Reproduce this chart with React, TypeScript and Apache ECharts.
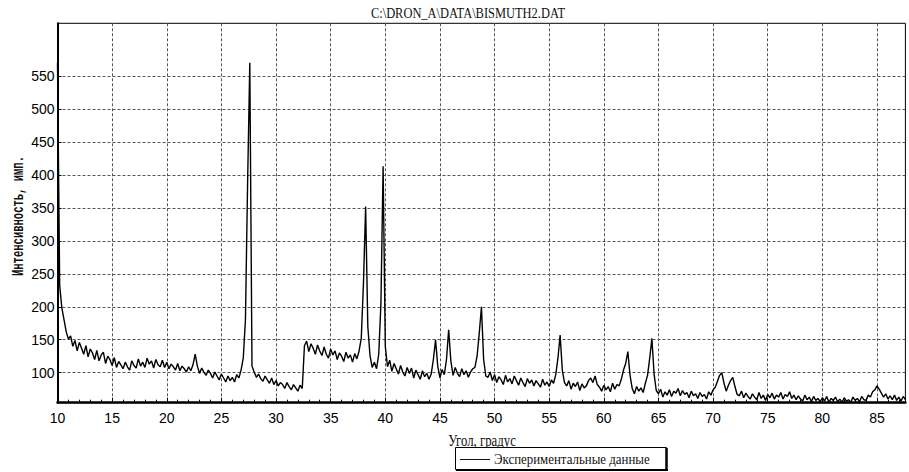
import React, { useEffect, useRef } from "react";
import * as echarts from "echarts";

const titleText = "C:\\DRON_A\\DATA\\BISMUTH2.DAT";
const xName = "Угол, градус";
const yName = "Интенсивность, имп.";
const legendName = "Экспериментальные данные";

const xTicks = [10, 15, 20, 25, 30, 35, 40, 45, 50, 55, 60, 65, 70, 75, 80, 85];
const yTicks = [100, 150, 200, 250, 300, 350, 400, 450, 500, 550];

const scanStep = 0.2;

// intensity readings, 10.0° – 19.8°
const scan10 = [
  570, 232, 198, 180, 162, 151, 156, 140, 149, 133,
  146, 137, 128, 141, 124, 136, 130, 120, 134, 118,
  127, 131, 114, 125, 120, 111, 123, 108, 117, 112,
  106, 116, 109, 104, 118, 111, 107, 121, 110, 116,
  108, 122, 113, 118, 107, 120, 112, 109, 119, 108,
];
// 20.0° – 29.8°
const scan20 = [
  116, 106, 113, 109, 104, 114, 103, 110, 106, 101,
  109, 103, 112, 128, 110, 99, 107, 101, 96, 104,
  99, 92, 101, 95, 89, 98, 92, 86, 95, 88,
  93, 86, 97, 92, 104, 122, 180, 390, 570, 110,
  101, 93, 98, 91, 87, 95, 89, 84, 92, 82,
];
// 30.0° – 39.8°
const scan30 = [
  88, 80, 85, 82, 76, 85, 79, 74, 82, 77,
  72, 81, 76, 141, 148, 132, 144, 137, 128, 142,
  133, 126, 139, 128, 122, 136, 127, 133, 120, 130,
  125, 117, 131, 122, 127, 116, 129, 121, 133, 152,
  235, 352, 170, 126, 108, 116, 106, 128, 205, 413,
];
// 40.0° – 49.8°
const scan40 = [
  140, 109, 119, 102, 114, 106, 98, 111, 101, 95,
  108, 99, 107, 92, 104, 97, 90, 103, 94, 99,
  90, 98, 120, 150, 110, 92, 105, 97, 120, 165,
  118, 96, 108, 99, 94, 106, 97, 103, 93, 101,
  106, 108, 125, 160, 200, 120, 95, 93, 101, 88,
];
// 50.0° – 59.8°
const scan50 = [
  97, 85, 94, 89, 82, 96, 86, 91, 83, 95,
  88, 81, 92, 85, 79, 91, 84, 89, 80, 88,
  83, 78, 90, 81, 86, 79, 89, 84, 97, 122,
  157, 104, 85, 80, 88, 75, 84, 79, 86, 73,
  83, 77, 80, 88, 92, 85, 95, 82, 78, 72,
];
// 60.0° – 69.8°
const scan60 = [
  81, 74, 79, 71, 84, 75, 82, 80, 90, 104,
  114, 132, 96, 76, 68, 79, 72, 77, 70, 84,
  96, 122, 152, 98, 73, 68, 75, 63, 71, 66,
  74, 64, 72, 69, 76, 65, 73, 67, 70, 62,
  72, 65, 68, 61, 70, 64, 67, 60, 71, 66,
];
// 70.0° – 79.8°
const scan70 = [
  74, 78, 87, 96, 100, 84, 72, 81, 88, 93,
  79, 67, 65, 72, 62, 69, 64, 60, 68, 63,
  59, 70, 61, 66, 58, 67, 62, 69, 60, 66,
  63, 70, 60, 67, 64, 71, 61, 66, 59, 65,
  60, 57, 66, 59, 63, 56, 64, 58, 61, 56,
];
// 80.0° – 87.6°
const scan80 = [
  62, 57, 64, 55, 61, 58, 63, 56, 60, 55,
  62, 57, 59, 55, 63, 58, 61, 56, 64, 59,
  58, 66, 63, 71, 74, 80, 75, 69, 63, 68,
  60, 65, 59, 66, 58, 63, 57, 64, 59,
];

const segments: [number, number[]][] = [
  [10, scan10],
  [20, scan20],
  [30, scan30],
  [40, scan40],
  [50, scan50],
  [60, scan60],
  [70, scan70],
  [80, scan80],
];

export default function App() {
  const ref = useRef<HTMLDivElement>(null);
  useEffect(() => {
    if (!ref.current) return;
    const chart = echarts.init(ref.current, null, { renderer: "svg" });
    const data: [number, number][] = [];
    segments.forEach(([start, vals]) => {
      vals.forEach((v, i) => data.push([+(start + i * scanStep).toFixed(1), v]));
    });
    const gridLine = { show: true, lineStyle: { color: "#555", type: [3, 2], width: 1 } };
    chart.setOption({
      animation: false,
      backgroundColor: "#fff",
      grid: {
        left: 57.5,
        right: 3.6,
        top: 23.3,
        bottom: 69.3,
        show: true,
        borderColor: "#000",
        borderWidth: 1,
        backgroundColor: "transparent",
      },
      xAxis: {
        type: "value",
        min: 10,
        max: 87.6,
        interval: 5,
        axisLine: { lineStyle: { color: "#000", width: 2.5 } },
        axisTick: { show: true, inside: true, length: 5, customValues: xTicks, lineStyle: { color: "#000" } },
        minorTick: { show: true, splitNumber: 5, length: 3, lineStyle: { color: "#000" } },
        axisLabel: {
          customValues: xTicks,
          margin: 8,
          fontSize: 14,
          color: "#000",
          fontFamily: "'Liberation Sans', Arial, sans-serif",
        },
        splitLine: gridLine,
      },
      yAxis: {
        type: "value",
        min: 54.5,
        max: 630,
        axisLine: { show: true, lineStyle: { color: "#000", width: 2 } },
        axisTick: { show: true, inside: true, length: 4, customValues: yTicks, lineStyle: { color: "#000" } },
        axisLabel: {
          customValues: yTicks,
          margin: 3,
          fontSize: 14,
          color: "#000",
          fontFamily: "'Liberation Sans', Arial, sans-serif",
        },
        splitLine: gridLine,
      },
      series: [
        {
          type: "line",
          name: legendName,
          data,
          showSymbol: false,
          lineStyle: { color: "#000", width: 1.4 },
        },
      ],
      graphic: [
        {
          type: "text",
          x: 468,
          y: 13,
          scaleX: 0.83,
          style: {
            text: titleText,
            font: "15px 'Liberation Serif'",
            fill: "#111",
            align: "center",
            verticalAlign: "middle",
          },
        },
        {
          type: "text",
          x: 18,
          y: 216,
          rotation: Math.PI / 2,
          scaleX: 0.62,
          style: {
            text: yName,
            font: "bold 17px 'Liberation Mono'",
            fill: "#111",
            align: "center",
            verticalAlign: "middle",
          },
        },
        {
          type: "text",
          x: 482,
          y: 440,
          scaleX: 0.8,
          style: {
            text: xName,
            font: "16px 'Liberation Serif'",
            fill: "#111",
            align: "center",
            verticalAlign: "middle",
          },
        },
        {
          type: "rect",
          shape: { x: 455.5, y: 447.5, width: 211, height: 22 },
          style: { fill: "#fff", stroke: "#000", lineWidth: 1 },
        },
        {
          type: "line",
          shape: { x1: 666.5, y1: 448, x2: 666.5, y2: 471 },
          style: { stroke: "#000", lineWidth: 2.5 },
        },
        {
          type: "line",
          shape: { x1: 456, y1: 470, x2: 668, y2: 470 },
          style: { stroke: "#000", lineWidth: 2 },
        },
        {
          type: "line",
          shape: { x1: 460, y1: 459.5, x2: 490, y2: 459.5 },
          style: { stroke: "#111", lineWidth: 1 },
        },
        {
          type: "text",
          x: 494,
          y: 459,
          scaleX: 0.86,
          style: {
            text: legendName,
            font: "15px 'Liberation Serif'",
            fill: "#111",
            align: "left",
            verticalAlign: "middle",
          },
        },
      ],
    });
    return () => chart.dispose();
  }, []);
  return (
    <div
      ref={ref}
      style={{ position: "absolute", left: 0, top: 0, width: 909, height: 472, background: "#fff" }}
    />
  );
}
